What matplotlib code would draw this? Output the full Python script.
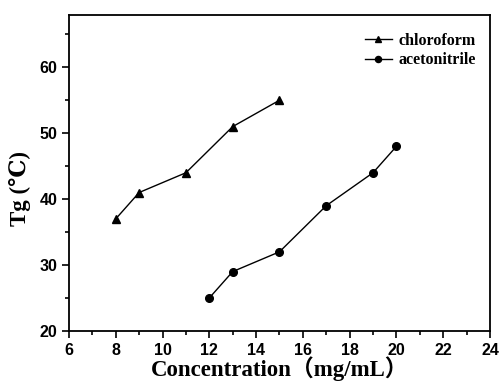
import matplotlib
matplotlib.use("Agg")
import matplotlib.pyplot as plt
from matplotlib.ticker import MultipleLocator

chloro_x = [8, 9, 11, 13, 15]
chloro_y = [37, 41, 44, 51, 55]
aceto_x = [12, 13, 15, 17, 19, 20]
aceto_y = [25, 29, 32, 39, 44, 48]

fig = plt.figure(figsize=(5.01, 3.83), dpi=100)
ax = fig.add_axes([0.1377, 0.136, 0.978 - 0.1377, 0.962 - 0.136])

ax.plot(chloro_x, chloro_y, color='black', lw=1, marker='^', ms=6, label='chloroform')
ax.plot(aceto_x, aceto_y, color='black', lw=1, marker='o', ms=5.5, label='acetonitrile')

ax.set_xlim(6, 24)
ax.set_ylim(20, 68)
ax.xaxis.set_major_locator(MultipleLocator(2))
ax.xaxis.set_minor_locator(MultipleLocator(1))
ax.yaxis.set_major_locator(MultipleLocator(10))
ax.yaxis.set_minor_locator(MultipleLocator(5))
ax.tick_params(which='both', direction='out', width=1.2)
ax.tick_params(which='major', length=5)
ax.tick_params(which='minor', length=3)
for s in ax.spines.values():
    s.set_linewidth(1.3)
for lab in ax.get_xticklabels() + ax.get_yticklabels():
    lab.set_family('Liberation Sans')
    lab.set_fontweight('bold')
    lab.set_fontsize(11.5)

ax.set_xlabel('Concentration（mg/mL）', family=['Liberation Serif', 'Noto Sans CJK SC'],
              fontweight='bold', fontsize=16.5, labelpad=-1)
ax.set_ylabel('Tg (℃)', family=['Liberation Serif', 'DejaVu Serif'],
              fontweight='bold', fontsize=16.5)
ax.yaxis.set_label_coords(-0.09, 0.45)

leg = ax.legend(loc='upper left', frameon=False,
                prop={'family': 'Liberation Serif', 'weight': 'bold', 'size': 11.5},
                handlelength=1.75, handletextpad=0.4, labelspacing=0.2, borderpad=0,
                markerscale=0.8, bbox_to_anchor=(0.683, 0.967))

fig.savefig('out.png', dpi=100)
